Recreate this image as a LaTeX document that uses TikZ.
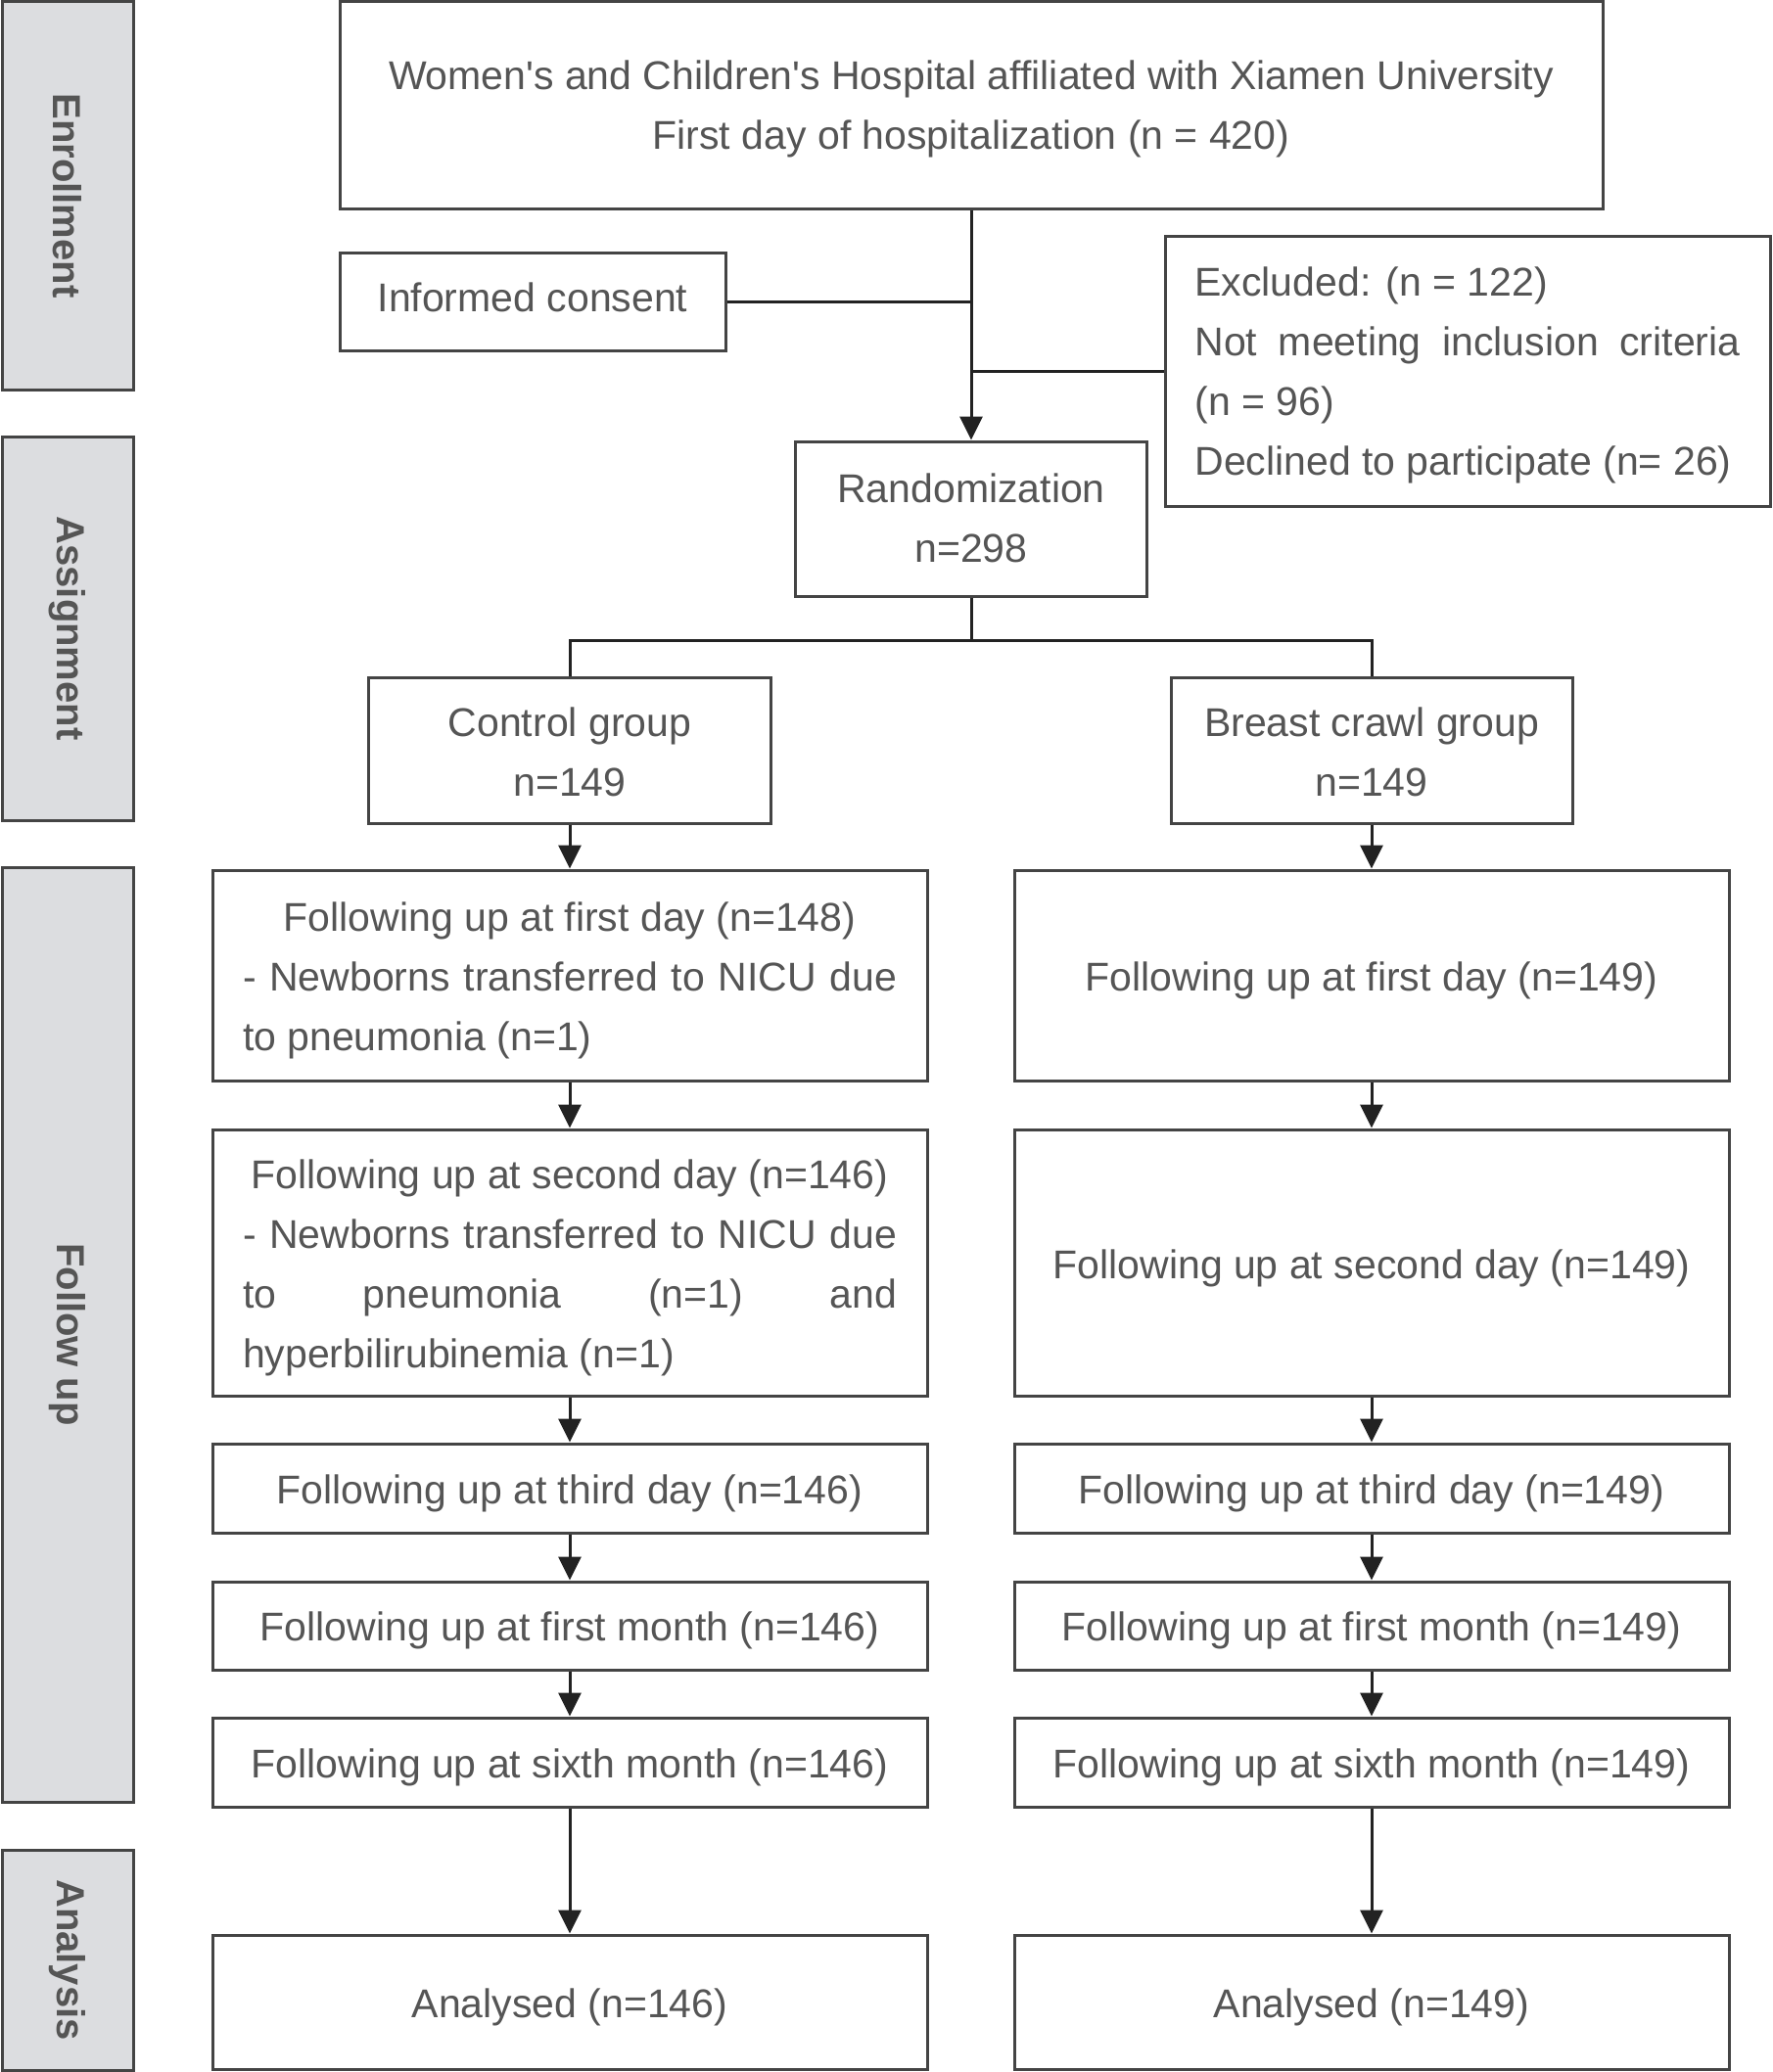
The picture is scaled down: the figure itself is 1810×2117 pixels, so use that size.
\documentclass[tikz,border=0pt]{standalone}
\usepackage{fontspec}
\setmainfont{Liberation Sans}
\usetikzlibrary{arrows.meta,calc}
\definecolor{txtc}{HTML}{555555}
\definecolor{bordc}{HTML}{444444}
\definecolor{linec}{HTML}{222222}
\definecolor{lblfill}{HTML}{DCDDE0}
% content moved down by #1 inside its node (box extent shifted)
\newcommand{\ctxt}[2][4pt]{\raisebox{0pt}[\dimexpr\height+#1\relax][\dimexpr\depth-#1\relax]{\begin{tabular}{@{}c@{}}#2\end{tabular}}}
\newcommand{\mtxt}[3][5pt]{\raisebox{0pt}[\dimexpr\height+#1\relax][\dimexpr\depth-#1\relax]{\begin{minipage}{#2}\fontsize{41}{61}\selectfont #3\end{minipage}}}
\tikzset{
  flowbox/.style={draw=bordc, line width=3pt, fill=white, inner sep=0pt, text=txtc,
    font=\fontsize{41}{61}\selectfont, align=center},
  lblbox/.style={draw=bordc, line width=3pt, fill=lblfill, inner sep=0pt, minimum width=134pt},
  lbltext/.style={text=txtc, font=\fontsize{40}{48}\selectfont\bfseries, rotate=-90},
  conn/.style={draw=linec, line width=3pt},
  arr/.style={conn, -{Triangle[length=24pt,width=23pt]}}
}
\begin{document}
\begin{tikzpicture}[x=1pt,y=-1pt]
\useasboundingbox[fill=white] (0,0) rectangle (1810,2117);

% phase labels
\node[lblbox, minimum height=396pt] (lenr) at (69,200) {};
\node[lbltext] (tenr) at (lenr.center) {Enrollment};
\node[lblbox, minimum height=392pt] (lass) at (69,642) {};
\node[lbltext] (tass) at (lass.center) {Assignment};
\node[lblbox, minimum height=955pt] (lfol) at (69,1363.5) {};
\node[lbltext] (tfol) at (lfol.center) {Follow up};
\node[lblbox, minimum height=225pt] (lana) at (69,2002.5) {};
\node[lbltext] (tana) at (lana.center) {Analysis};

% enrollment
\node[flowbox, minimum width=1290pt, minimum height=211pt] (main) at (992,107.5)
  {\ctxt[2.7pt]{Women\textquotesingle s and Children\textquotesingle s Hospital affiliated with Xiamen University\\First day of hospitalization (n = 420)}};
\node[flowbox, minimum width=394pt, minimum height=100pt] (ic) at (544,308) {\ctxt[-1.4pt]{Informed consent}};
\node[flowbox, minimum width=618pt, minimum height=276pt] (ex) at (1499,379)
  {\mtxt[4pt]{557pt}{%
   Excluded: (n = 122)\\
   \makebox[\linewidth][s]{Not meeting inclusion criteria}\\
   (n = 96)\\
   Declined to participate (n= 26)}};
\node[flowbox, minimum width=359pt, minimum height=158pt] (rand) at (992,530) {\ctxt[1.4pt]{Randomization\\n=298}};

% groups
\node[flowbox, minimum width=411pt, minimum height=149pt] (ctrl) at (582,766.5) {\ctxt{Control group\\n=149}};
\node[flowbox, minimum width=410pt, minimum height=149pt] (bc) at (1401,766.5) {\ctxt{Breast crawl group\\n=149}};

% left column
\node[flowbox, minimum width=730pt, minimum height=215pt] (l1) at (582,996.5)
  {\mtxt[5.4pt]{668pt}{%
   \makebox[\linewidth][c]{Following up at first day (n=148)}\\
   \makebox[\linewidth][s]{- Newborns transferred to NICU due}\\
   to pneumonia (n=1)}};
\node[flowbox, minimum width=730pt, minimum height=272pt] (l2) at (582,1290)
  {\mtxt[5.4pt]{668pt}{%
   \makebox[\linewidth][c]{Following up at second day (n=146)}\\
   \makebox[\linewidth][s]{- Newborns transferred to NICU due}\\
   \makebox[\linewidth][s]{to pneumonia (n=1) and}\\
   hyperbilirubinemia (n=1)}};
\node[flowbox, minimum width=730pt, minimum height=91pt] (l3) at (582,1520.5) {\ctxt{Following up at third day (n=146)}};
\node[flowbox, minimum width=730pt, minimum height=90pt] (l4) at (582,1661) {\ctxt[3pt]{Following up at first month (n=146)}};
\node[flowbox, minimum width=730pt, minimum height=91pt] (l5) at (582,1800.5) {\ctxt{Following up at sixth month (n=146)}};
\node[flowbox, minimum width=730pt, minimum height=137pt] (l6) at (582,2045.5) {\ctxt{Analysed (n=146)}};

% right column
\node[flowbox, minimum width=730pt, minimum height=215pt] (r1) at (1401,996.5) {\ctxt{Following up at first day (n=149)}};
\node[flowbox, minimum width=730pt, minimum height=272pt] (r2) at (1401,1290) {\ctxt{Following up at second day (n=149)}};
\node[flowbox, minimum width=730pt, minimum height=91pt] (r3) at (1401,1520.5) {\ctxt{Following up at third day (n=149)}};
\node[flowbox, minimum width=730pt, minimum height=90pt] (r4) at (1401,1661) {\ctxt[3pt]{Following up at first month (n=149)}};
\node[flowbox, minimum width=730pt, minimum height=91pt] (r5) at (1401,1800.5) {\ctxt{Following up at sixth month (n=149)}};
\node[flowbox, minimum width=730pt, minimum height=137pt] (r6) at (1401,2045.5) {\ctxt{Analysed (n=149)}};

% connectors
\coordinate (split) at ($(rand.south)+(0,44)$);
\draw[arr] (main.south) -- (rand.north);
\draw[conn] (ic.east) -- (ic.east -| main.south);
\draw[conn] (ex.west) -- (ex.west -| main.south);
\draw[conn] (rand.south) -- (split);
\draw[conn] (ctrl.north) |- (split) -| (bc.north);
\draw[arr] (ctrl.south) -- (l1.north);
\draw[arr] (l1.south) -- (l2.north);
\draw[arr] (l2.south) -- (l3.north);
\draw[arr] (l3.south) -- (l4.north);
\draw[arr] (l4.south) -- (l5.north);
\draw[arr] (l5.south) -- (l6.north);
\draw[arr] (bc.south) -- (r1.north);
\draw[arr] (r1.south) -- (r2.north);
\draw[arr] (r2.south) -- (r3.north);
\draw[arr] (r3.south) -- (r4.north);
\draw[arr] (r4.south) -- (r5.north);
\draw[arr] (r5.south) -- (r6.north);
\end{tikzpicture}
\end{document}
